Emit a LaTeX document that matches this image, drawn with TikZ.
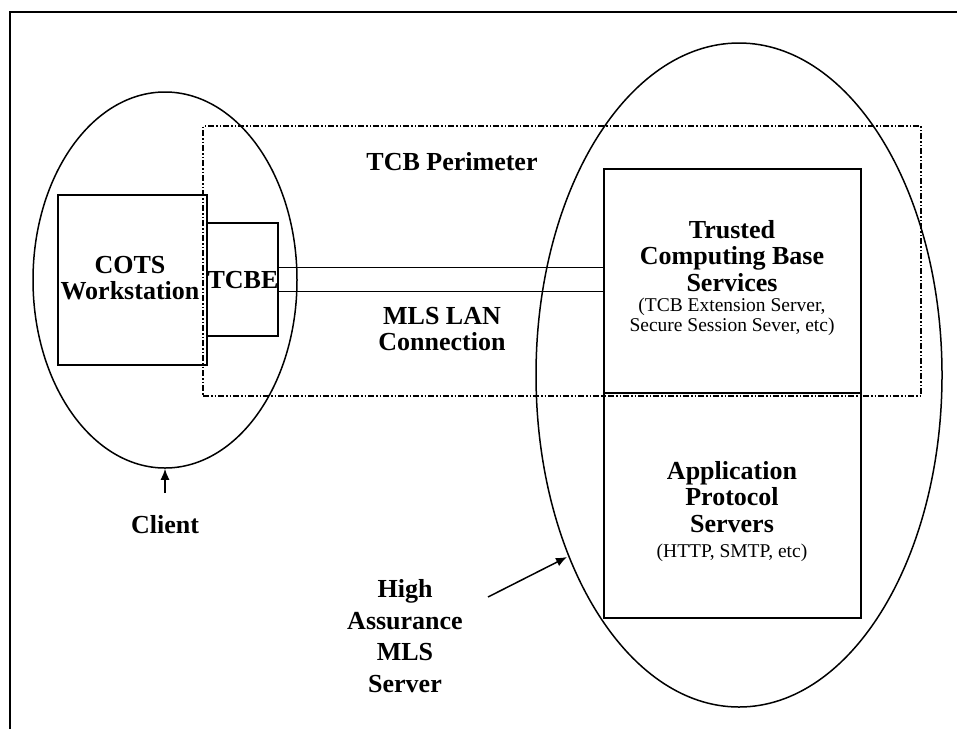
\documentclass[tikz,border=0pt]{standalone}
\usepackage{fontspec}
\setmainfont{Liberation Serif}
\usetikzlibrary{shapes.geometric,arrows.meta}
\begin{document}
\begin{tikzpicture}[x=1pt,y=-1pt,line width=1.5pt,
  box/.style={draw, rectangle, inner sep=0pt},
  oval/.style={draw, ellipse, inner sep=0pt},
  big/.style={font=\fontsize{26}{26.5}\selectfont\bfseries, align=center},
  small/.style={font=\fontsize{19.5}{20}\selectfont, align=center},
  pointer/.style={-{Latex[length=11pt,width=9pt]}}]
\useasboundingbox (0,0) rectangle (957,729);
\draw[line width=2.5pt] (10,729) -- (10,12) -- (957,12);
\node[oval, minimum width=264pt, minimum height=376pt] (client) at (165,280){};
\node[oval, minimum width=406pt, minimum height=664pt] (server) at (739,375){};
\node[draw, line width=1.2pt, dash pattern=on 6pt off 2pt on 1.5pt off 2pt on 1.5pt off 2pt, minimum width=718pt, minimum height=270pt, inner sep=0pt] (perim) at (562,261){};
\node[box, minimum width=149pt, minimum height=170pt] (cots) at (132.5,280){};
\node[box, minimum width=71pt, minimum height=113pt] (tcbe) at (242.5,279.5){};
\node[box, minimum width=257pt, minimum height=224pt] (tcb) at (732.5,281){};
\node[box, minimum width=257pt, minimum height=225pt] (apps) at (732.5,505.5){};
\node[big] (cotstext) at (130,278){COTS\\Workstation};
\node[big] (tcbetext) at (243,280){TCBE};
\node[big] (tcbtitle) at (732,256){Trusted\\Computing Base\\Services};
\node[small] (tcbnote) at (732,317){(TCB Extension Server,\\Secure Session Sever, etc)};
\node[big] (appstitle) at (732,497){Application\\Protocol\\Servers};
\node[small] (appsnote) at (732,553){(HTTP, SMTP, etc)};
\node[big] (perimlabel) at (452,162){TCB Perimeter};
\node[big, text depth=0pt] (lanlabel) at (442,329){MLS LAN\\Connection};
\node[big] (clientlabel) at (165,525){Client};
\node[big, align=center, font=\fontsize{26}{31.5}\selectfont\bfseries] (halabel) at (405,636){High\\Assurance\\MLS\\Server};
\coordinate (clienttail) at (165,493);
\coordinate (hatail) at (488,597);
\coordinate (hatip) at (567,557);
% MLS LAN connection
\draw[] ([yshift=12pt]tcbe.east) -- ([yshift=12pt]tcbe.east -| tcb.west);
\draw[] ([yshift=-12pt]tcbe.east) -- ([yshift=-12pt]tcbe.east -| tcb.west);
% pointers
\draw[pointer] (clienttail) -- (client.south);
\draw[pointer] (hatail) -- (hatip);
\end{tikzpicture}
\end{document}
